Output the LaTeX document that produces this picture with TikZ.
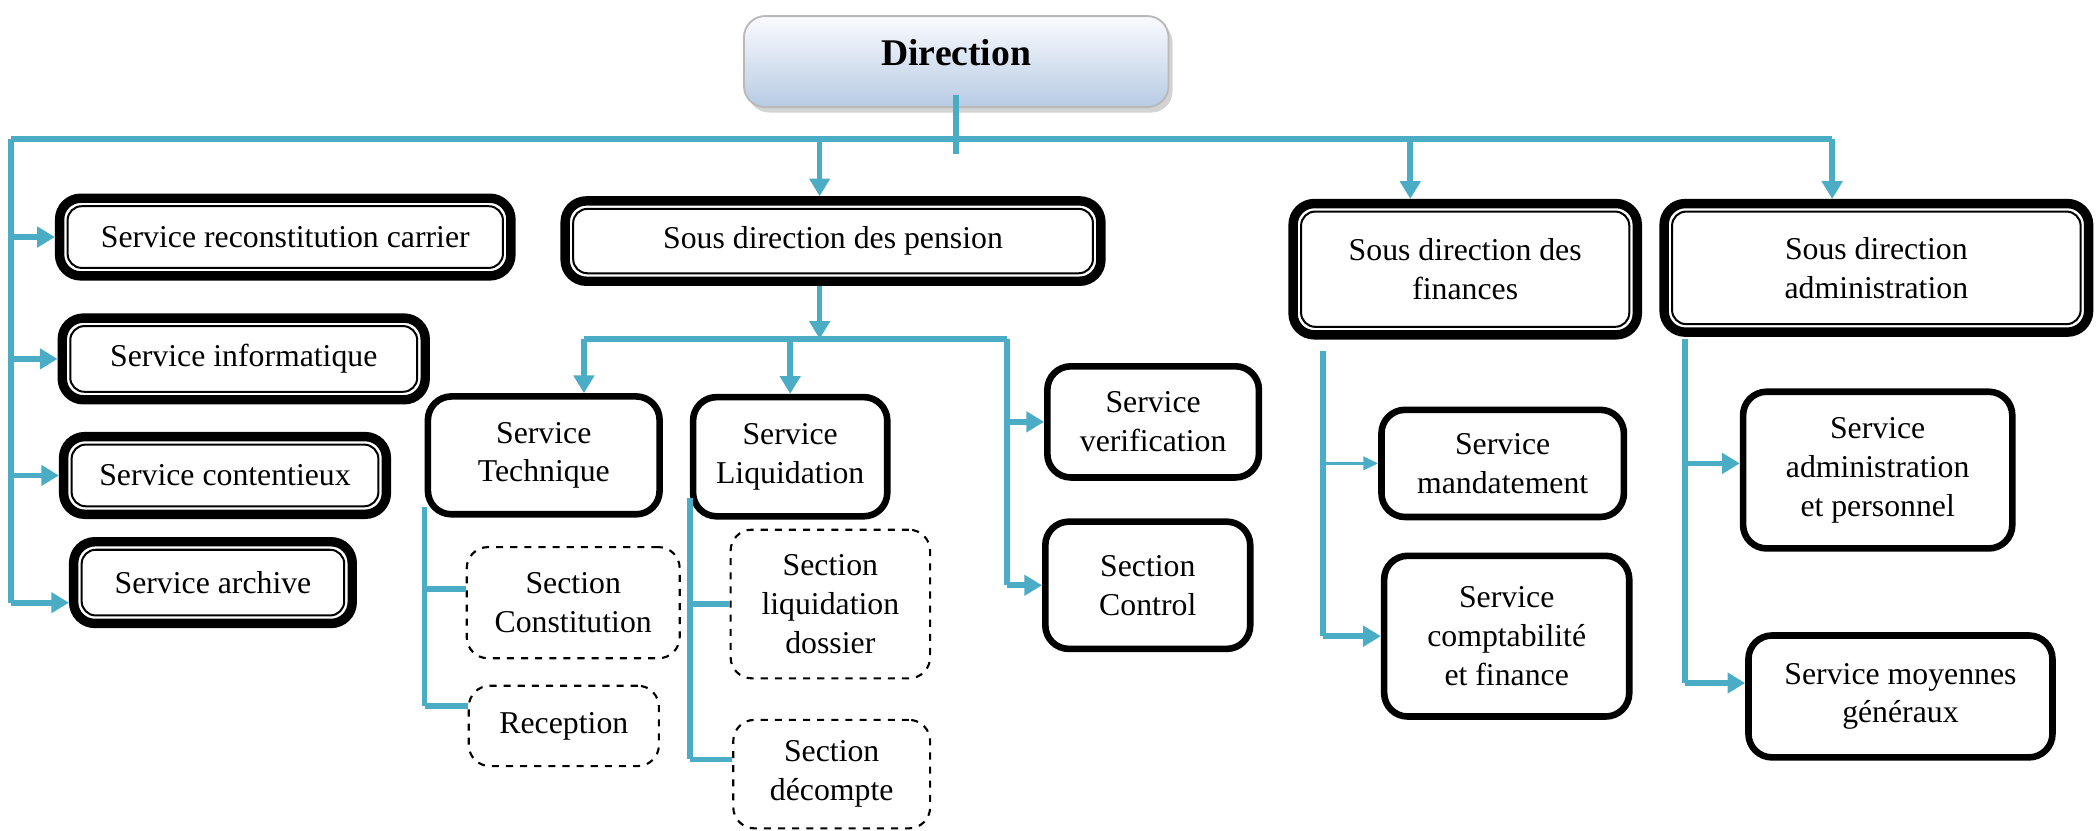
\documentclass[tikz,border=0pt]{standalone}
\usepackage{fontspec}
\setmainfont{Liberation Serif}
\usetikzlibrary{arrows.meta,shadows}
\definecolor{linkblue}{RGB}{75,172,198}
\definecolor{dirtop}{RGB}{250,251,254}
\definecolor{dirbottom}{RGB}{183,203,228}

\begin{document}
\begin{tikzpicture}[x=0.2mm, y=-0.2mm,
			>={Triangle[width=8.5pt,length=7.5pt]},
			% 渐变的圆角框
			topnode/.style={rectangle, rounded corners=9pt, draw=gray!55, line width=0.8pt, top color=dirtop, bottom color=dirbottom, drop shadow={opacity=0.35, shadow xshift=0.6mm, shadow yshift=-0.8mm}, font=\fontsize{16}{19}\selectfont\bfseries},
			% 双线框
			dblnode/.style={rectangle, draw, line width=4pt, rounded corners=9pt, align=center, font=\fontsize{13.5}{16.5}\selectfont,
				path picture={\draw[line width=0.85pt, rounded corners=6pt] ([shift={(3.4pt,3.4pt)}]path picture bounding box.south west) rectangle ([shift={(-3.4pt,-3.4pt)}]path picture bounding box.north east);}},
			% 粗线框
			thicknode/.style={rectangle, draw, line width=2.8pt, rounded corners=10pt, align=center, font=\fontsize{13.5}{16.5}\selectfont},
			% 虚线框
			dashnode/.style={rectangle, draw, dashed, line width=0.9pt, rounded corners=9pt, align=center, font=\fontsize{13.5}{16.5}\selectfont},
			link/.style={draw=linkblue, line width=2.4pt},
			thinlink/.style={draw=linkblue, line width=1.4pt, >={Triangle[width=5.6pt,length=6.3pt]}}
		]
		\useasboundingbox (0,0) rectangle (1568,620);

		%Nodes
		\node[topnode]      (dir)     at (714,46)   [minimum width=63.4mm, minimum height=13.6mm]   {\raisebox{2.8mm}{Direction}};
		\node[dblnode]      (rec)     at (213,177)  [minimum width=67.4mm, minimum height=11.6mm]   {Service reconstitution carrier};
		\node[dblnode]      (inf)     at (182,268)  [minimum width=54.2mm, minimum height=12.2mm]   {Service informatique};
		\node[dblnode]      (cont)    at (168,355)  [minimum width=48.2mm, minimum height=11.6mm]   {Service contentieux};
		\node[dblnode]      (arch)    at (159,435)  [minimum width=41.6mm, minimum height=12.2mm]   {Service archive};
		\node[dblnode]      (pens)    at (622,180)  [minimum width=80mm,   minimum height=12mm]     {Sous direction des pension};
		\node[dblnode]      (fin)     at (1094,201) [minimum width=51.4mm, minimum height=19.6mm]   {Sous direction des\\finances};
		\node[dblnode]      (adm)     at (1401,200) [minimum width=63.4mm, minimum height=19.2mm]   {Sous direction\\administration};
		\node[thicknode]    (tech)    at (406,340)  [minimum width=34.6mm, minimum height=17.6mm]   {Service\\Technique};
		\node[thicknode]    (liq)     at (590,341)  [minimum width=29mm,   minimum height=17.8mm]   {Service\\Liquidation};
		\node[thicknode]    (verif)   at (861,315)  [minimum width=31.6mm, minimum height=16.6mm]   {Service\\verification};
		\node[thicknode]    (ctrl)    at (857,437)  [minimum width=30.6mm, minimum height=19mm]     {Section\\Control};
		\node[dashnode]     (const)   at (428,450)  [minimum width=31.8mm, minimum height=16.6mm]   {Section\\Constitution};
		\node[dashnode]     (recep)   at (421,542)  [minimum width=28.4mm, minimum height=12mm]     {Reception};
		\node[dashnode]     (ldos)    at (620,451)  [minimum width=29.8mm, minimum height=22.2mm]   {Section\\liquidation\\dossier};
		\node[dashnode]     (deco)    at (621,578)  [minimum width=29.4mm, minimum height=16.2mm]   {Section\\décompte};
		\node[thicknode]    (mand)    at (1122,346) [minimum width=36.2mm, minimum height=16mm]     {Service\\mandatement};
		\node[thicknode]    (compt)   at (1125,475) [minimum width=36.6mm, minimum height=24mm]     {Service\\comptabilité\\et finance};
		\node[thicknode]    (adp)     at (1402,351) [minimum width=40.2mm, minimum height=23.4mm]   {Service\\administration\\et personnel};
		\node[thicknode]    (moy)     at (1419,520) [minimum width=45.4mm, minimum height=18.2mm]   {Service moyennes\\généraux};

		% 连线用的点
		\coordinate (busL)     at (8,104);
		\coordinate (busR)     at (1368,104);
		\coordinate (trunk)    at (714,115);
		\coordinate (archIn)   at ([yshift=-3mm]arch.west);
		\coordinate (pensTop)  at ([xshift=-2mm]pens.north);
		\coordinate (finTop)   at ([xshift=-8.2mm]fin.north);
		\coordinate (pensOut)  at ([xshift=-2mm]pens.south);
		\coordinate (bus2L)    at (436,253);
		\coordinate (bus2R)    at (752,253);
		\coordinate (techL)    at ([yshift=1.6mm]tech.south west);
		\coordinate (constIn)  at ([yshift=2mm]const.west);
		\coordinate (recepIn)  at ([yshift=3mm]recep.west);
		\coordinate (liqL)     at ([yshift=3.2mm]liq.south west);
		\coordinate (decoIn)   at ([yshift=2.2mm]deco.west);
		\coordinate (finL)     at (988,262);
		\coordinate (admL)     at (1258,253);
		\coordinate (adpIn)    at ([yshift=1mm]adp.west);
		\coordinate (moyIn)    at ([yshift=2mm]moy.west);

		%Lines
		\draw[link]     ([yshift=2mm]dir.south)   --    (trunk);
		\draw[link]     (busL)                    --    (busR);
		\draw[link]     (busL)                    --    (busL |- archIn);
		\draw[link,->]  (busL |- rec.west)        --    (rec.west);
		\draw[link,->]  (busL |- inf.west)        --    (inf.west);
		\draw[link,->]  (busL |- cont.west)       --    (cont.west);
		\draw[link,->]  (busL |- archIn)          --    (archIn);
		\draw[link,->]  (busL -| pensTop)         --    (pensTop);
		\draw[link,->]  (busL -| finTop)          --    (finTop);
		\draw[link,->]  (busR)                    --    (busR |- adm.north);

		% 养老金分支
		\draw[link,->]  (pensOut)                 --    (pensOut |- bus2L);
		\draw[link]     (bus2L)                   --    (bus2R);
		\draw[link,->]  (bus2L)                   --    (bus2L |- tech.north);
		\draw[link,->]  (bus2L -| liq.north)      --    (liq.north);
		\draw[link]     (bus2R)                   --    (bus2R |- ctrl.west);
		\draw[link,->]  (bus2R |- verif.west)     --    (verif.west);
		\draw[link,->]  (bus2R |- ctrl.west)      --    (ctrl.west);
		\draw[link]     (techL)                   --    (techL |- recepIn);
		\draw[link]     (techL |- constIn)        --    (constIn);
		\draw[link]     (techL |- recepIn)        --    (recepIn);
		\draw[link]     (liqL)                    --    (liqL |- decoIn);
		\draw[link]     (liqL |- ldos.west)       --    (ldos.west);
		\draw[link]     (liqL |- decoIn)          --    (decoIn);

		% 财务与行政分支
		\draw[link]     (finL)                    --    (finL |- compt.west);
		\draw[thinlink,->] (finL |- mand.west)    --    (mand.west);
		\draw[link,->]  (finL |- compt.west)      --    (compt.west);
		\draw[link]     (admL)                    --    (admL |- moyIn);
		\draw[link,->]  (admL |- adpIn)           --    (adpIn);
		\draw[link,->]  (admL |- moyIn)           --    (moyIn);
	\end{tikzpicture}
\end{document}
